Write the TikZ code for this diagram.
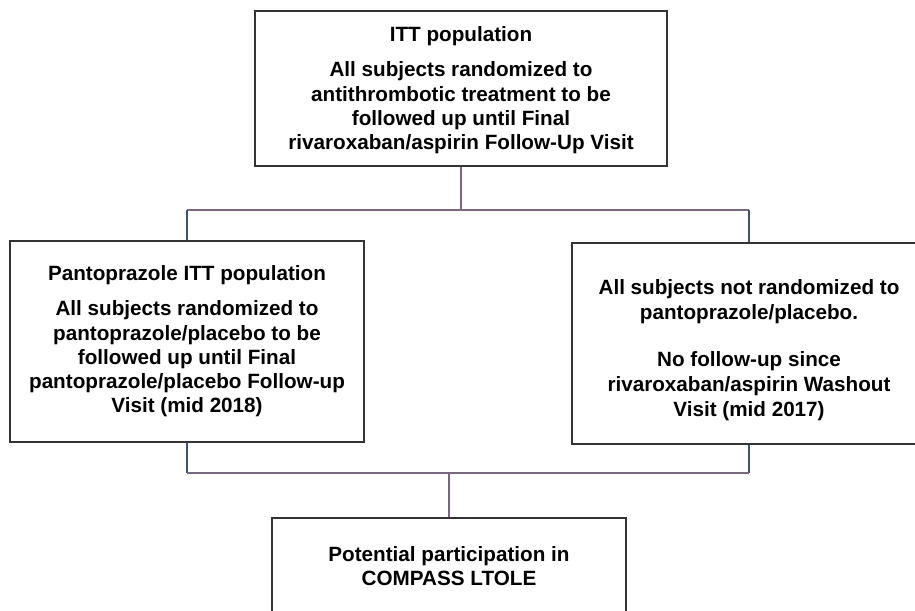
\documentclass[tikz,border=0pt]{standalone}
\usepackage{fontspec}
\setmainfont{Liberation Sans}
\begin{document}
\begin{tikzpicture}[x=0.75pt,y=-0.75pt,
  boxstyle/.style={draw=boxgray, line width=1.5pt, rectangle, inner sep=0pt, align=center,
    font=\fontsize{15.5}{18.2}\selectfont\bfseries},
  txtstyle/.style={inner sep=0pt, align=center, font=\fontsize{15.5}{19}\selectfont\bfseries},
  hline/.style={draw=linepur, line width=1.1pt},
  vline/.style={draw=lineblue, line width=1.1pt}]
\definecolor{boxgray}{HTML}{333333}
\definecolor{linepur}{HTML}{7A6680}
\definecolor{lineblue}{HTML}{3E5468}
\useasboundingbox (0,0) rectangle (915,611);
\clip (0,0) rectangle (915,611);

\node[boxstyle, minimum width=412*0.75pt, minimum height=155*0.75pt] (top) at (461,88.5) {};
\node[txtstyle, font=\fontsize{15.5}{18.2}\selectfont\bfseries] (toptext) at (461,90.5)
  {ITT population\\[8pt]
   All subjects randomized to\\
   antithrombotic treatment to be\\
   followed up until Final\\
   rivaroxaban/aspirin Follow-Up Visit};

\node[boxstyle, minimum width=354*0.75pt, minimum height=201*0.75pt] (left) at (187,341.5)
  {Pantoprazole ITT population\\[8pt]
   All subjects randomized to\\
   pantoprazole/placebo to be\\
   followed up until Final\\
   pantoprazole/placebo Follow-up\\
   Visit (mid 2018)};

\node[boxstyle, minimum width=354*0.75pt, minimum height=201*0.75pt] (right) at (749,343.5) {};
\node[txtstyle] (righttext) at (749,350)
  {All subjects not randomized to\\
   pantoprazole/placebo.\\[16pt]
   No follow-up since\\
   rivaroxaban/aspirin Washout\\
   Visit (mid 2017)};

\node[boxstyle, minimum width=354*0.75pt, minimum height=100*0.75pt] (bottom) at (449,568) {};
\node[txtstyle, font=\fontsize{15.5}{18.2}\selectfont\bfseries] (bottomtext) at (449,566)
  {Potential participation in\\
   COMPASS LTOLE};

\coordinate (ja) at (461,210);
\coordinate (jb) at (449,473);

\draw[hline] (top.south) -- (ja);
\draw[hline] (left.north |- ja) -- (right.north |- ja);
\draw[vline] (left.north |- ja) -- (left.north);
\draw[vline] (right.north |- ja) -- (right.north);

\draw[vline] (left.south) -- (left.south |- jb);
\draw[vline] (right.south) -- (right.south |- jb);
\draw[hline] (left.south |- jb) -- (right.south |- jb);
\draw[hline] (jb) -- (bottom.north);
\end{tikzpicture}
\end{document}
